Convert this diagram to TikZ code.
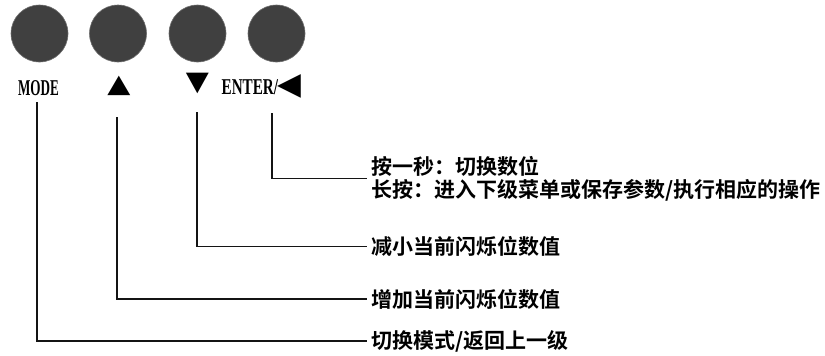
\documentclass[tikz,border=0pt]{standalone}
\usepackage{fontspec}
\setmainfont{Liberation Serif}
\newfontfamily\cjk{Noto Sans CJK SC Bold}
\newfontfamily\symf{DejaVu Sans}
\usepackage{graphicx}
\definecolor{btngray}{RGB}{64,64,64}
\definecolor{btnedge}{RGB}{110,110,110}
\definecolor{wirecol}{RGB}{20,20,20}
\begin{document}
\begin{tikzpicture}[x=1pt,y=-1pt,
  btn/.style={circle,fill=btngray,draw=btnedge,line width=0.6pt,minimum size=57pt,inner sep=0pt},
  key/.style={inner sep=0pt,font=\bfseries\fontsize{22.6}{23}\selectfont},
  tri/.style={inner sep=0pt,font=\symf\fontsize{30}{30}\selectfont},
  desc/.style={anchor=west,inner sep=0pt,align=left,font=\cjk\fontsize{21}{23}\selectfont},
  wire/.style={line width=1.1pt,draw=wirecol}]
\useasboundingbox[fill=white] (0,0) rectangle (825,356);
% buttons
\node[btn] (b1) at (39.5,33.5) {};
\node[btn] (b2) at (118,33.5) {};
\node[btn] (b3) at (197.5,33.5) {};
\node[btn] (b4) at (276.5,33.5) {};
% key labels
\node[key] (l1) at (38.5,88) {\scalebox{0.58}[1]{MODE}};
\node[tri] (l2) at (119,85.5) {\scalebox{1}[0.85]{▲}};
\node[tri] (l3) at (197.5,83) {\scalebox{1}[0.9]{▼}};
\node[key,anchor=west] (l4) at (221.5,86) {\scalebox{0.67}[1]{ENTER/}\kern-0.5pt{\symf\fontsize{31}{31}\selectfont◀}};
% line tops
\coordinate (t1) at (37,102);
\coordinate (t2) at (117,117);
\coordinate (t3) at (197,112);
\coordinate (t4) at (272,113);
% descriptions
\node[desc] (d1) at (371,178.5) {按一秒：切换数位\\长按：进入下级菜单或保存参数/执行相应的操作};
\node[desc] (d2) at (371,246.5) {减小当前闪烁位数值};
\node[desc] (d3) at (371,299) {增加当前闪烁位数值};
\node[desc] (d4) at (371,341) {切换模式/返回上一级};
% connectors
\draw[wire] (t4) |- ([xshift=-4pt]d1.west);
\draw[wire] (t3) |- ([xshift=-4pt]d2.west);
\draw[wire] (t2) |- ([xshift=-4pt]d3.west);
\draw[wire] (t1) |- ([xshift=-4pt]d4.west);
\end{tikzpicture}
\end{document}
